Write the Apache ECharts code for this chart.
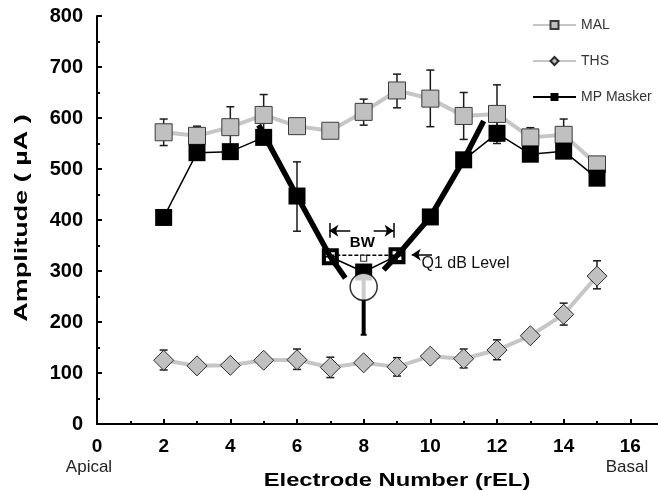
<!DOCTYPE html>
<html>
<head>
<meta charset="utf-8">
<script src="https://cdn.jsdelivr.net/npm/echarts@6/dist/echarts.min.js"></script>
<style>
html, body { margin: 0; padding: 0; background: #fff; }
#chart { width: 658px; height: 491px; }
</style>
</head>
<body>
<div id="chart"></div>
<script>
// electrode numbers (rEL)
var electrodes = [2, 3, 4, 5, 6, 7, 8, 9, 10, 11, 12, 13, 14, 15];
// MAL
var malValues = [572, 565, 582, 606, 584, 575, 612, 654, 638, 604, 608, 562, 567, 509];
var malLow    = [546, 545, 540, 565, 572, 575, 586, 620, 583, 558, 555, 555, 540, 509];
var malHigh   = [598, 584, 622, 646, 596, 575, 637, 686, 694, 650, 665, 581, 598, 509];
// THS
var thsValues = [125, 114, 115, 125, 126, 111, 120, 112, 133, 128, 145, 173, 215, 290];
var thsLow    = [106, 114, 115, 125, 107, 91, 120, 94, 133, 110, 126, 173, 194, 265];
var thsHigh   = [145, 114, 115, 125, 147, 131, 120, 130, 133, 147, 165, 173, 237, 320];
// MP Masker
var mpValues = [405, 532, 534, 562, 447, 328, 298, 330, 406, 518, 570, 529, 535, 482];
var mpLow    = [405, 532, 534, 562, 378, 328, 298, 330, 406, 518, 550, 529, 535, 482];
var mpHigh   = [405, 532, 534, 562, 514, 328, 298, 330, 406, 518, 592, 529, 535, 482];
var bwElectrodes = [7, 9];
// fitted slopes (thick lines)
var leftSlope = [[4.85, 586], [6, 447], [7, 328], [7.45, 286]];
var rightSlope = [[8.6, 302], [9, 330], [10, 406], [11, 518], [11.6, 594]];
// Q1 dB level, centre and minimum
var q1Level = 331;
var cfPoint = [8, 325];
var minPoint = [8, 269];
var minBar = [8, 175, 298];
var xTicks = [0, 2, 4, 6, 8, 10, 12, 14, 16];

var FONT = 'Liberation Sans, Arial, sans-serif';
var GRAY = '#c6c6c6';
var FILL = '#c0c0c0';

function pairs(xs, ys) {
  return xs.map(function (x, i) { return [x, ys[i]]; });
}

function errorBars(name, lows, highs, width, capW, z) {
  var data = [];
  electrodes.forEach(function (e, i) {
    if (highs[i] > lows[i]) data.push([e, lows[i], highs[i]]);
  });
  return {
    name: name,
    type: 'custom',
    silent: true,
    z: z,
    encode: { x: 0, y: [1, 2] },
    data: data,
    renderItem: function (params, api) {
      var x = api.value(0);
      var lo = api.coord([x, api.value(1)]);
      var hi = api.coord([x, api.value(2)]);
      var h = capW / 2;
      var st = { stroke: '#1a1a1a', lineWidth: width };
      return {
        type: 'group',
        children: [
          { type: 'line', shape: { x1: lo[0], y1: lo[1], x2: hi[0], y2: hi[1] }, style: st },
          { type: 'line', shape: { x1: lo[0] - h, y1: lo[1], x2: lo[0] + h, y2: lo[1] }, style: st },
          { type: 'line', shape: { x1: hi[0] - h, y1: hi[1], x2: hi[0] + h, y2: hi[1] }, style: st }
        ]
      };
    }
  };
}

// black square with a white 2x2 grid inside
var gridSquare = 'path://M0 0H10V10H0Z M2.4 2.4V4.6H4.6V2.4Z M5.4 2.4V4.6H7.6V2.4Z M2.4 5.4V7.6H4.6V5.4Z M5.4 5.4V7.6H7.6V5.4Z';

var mpData = electrodes.map(function (e, i) {
  if (bwElectrodes.indexOf(e) > -1) {
    return { value: [e, mpValues[i]], symbol: gridSquare };
  }
  return [e, mpValues[i]];
});

var chart = echarts.init(document.getElementById('chart'));

var option = {
  animation: false,
  textStyle: { fontFamily: FONT },
  grid: { left: 97, right: -39, top: 16, bottom: 67, outerBoundsMode: 'none', containLabel: false },
  legend: {
    data: ['MAL', 'THS', 'MP Masker'],
    orient: 'vertical',
    left: 527,
    top: 13,
    itemWidth: 43,
    itemHeight: 10,
    itemGap: 22,
    textStyle: { fontFamily: FONT, fontSize: 14, color: '#333' }
  },
  xAxis: {
    type: 'value',
    min: 0,
    max: 18,
    interval: 2,
    axisLine: { lineStyle: { color: '#000', width: 2 } },
    axisTick: { inside: true, length: 5, lineStyle: { color: '#000', width: 2 } },
    minorTick: { show: true, splitNumber: 2, length: 3, lineStyle: { color: '#000', width: 2 } },
    splitLine: { show: false },
    axisLabel: {
      margin: 13,
      fontSize: 19,
      fontWeight: 'bold',
      color: '#000',
      fontFamily: FONT,
      formatter: function (v) { return xTicks.indexOf(v) > -1 ? String(v) : ''; }
    }
  },
  yAxis: {
    type: 'value',
    min: 0,
    max: 800,
    interval: 100,
    axisLine: { show: true, lineStyle: { color: '#000', width: 2 } },
    axisTick: { inside: true, length: 5, lineStyle: { color: '#000', width: 2 } },
    minorTick: { show: true, splitNumber: 2, length: 3, lineStyle: { color: '#000', width: 2 } },
    splitLine: { show: false },
    axisLabel: { margin: 14, fontSize: 20, fontWeight: 'bold', color: '#000', fontFamily: FONT }
  },
  graphic: [
    {
      type: 'text', x: 397, y: 481, scaleX: 1.25,
      style: { text: 'Electrode Number (rEL)', font: 'bold 19px ' + FONT, fill: '#000', align: 'center', verticalAlign: 'middle' }
    },
    {
      type: 'text', x: 22, y: 218, rotation: Math.PI / 2, scaleX: 1.42,
      style: { text: 'Amplitude ( µA )', font: 'bold 19px ' + FONT, fill: '#000', align: 'center', verticalAlign: 'middle' }
    },
    { type: 'text', x: 89, y: 467, style: { text: 'Apical', font: '17px ' + FONT, fill: '#222', align: 'center', verticalAlign: 'middle' } },
    { type: 'text', x: 627, y: 467, style: { text: 'Basal', font: '17px ' + FONT, fill: '#222', align: 'center', verticalAlign: 'middle' } }
  ],
  series: [
    errorBars('malErr', malLow, malHigh, 1.5, 8, 1),
    errorBars('thsErr', thsLow, thsHigh, 1.5, 8, 1),
    errorBars('mpErr', mpLow, mpHigh, 1.5, 8, 1),
    {
      name: 'MAL',
      type: 'line',
      z: 2,
      data: pairs(electrodes, malValues),
      symbol: 'rect',
      symbolSize: 17,
      lineStyle: { color: GRAY, width: 4 },
      itemStyle: { color: FILL, borderColor: '#3a3a3a', borderWidth: 1 }
    },
    {
      name: 'THS',
      type: 'line',
      z: 2,
      data: pairs(electrodes, thsValues),
      symbol: 'diamond',
      symbolSize: 20,
      lineStyle: { color: GRAY, width: 4 },
      itemStyle: { color: FILL, borderColor: '#2a2a2a', borderWidth: 1 }
    },
    {
      name: 'leftSlope',
      type: 'line',
      z: 3,
      data: leftSlope,
      symbol: 'none',
      lineStyle: { color: '#000', width: 5.5 }
    },
    {
      name: 'rightSlope',
      type: 'line',
      z: 3,
      data: rightSlope,
      symbol: 'none',
      lineStyle: { color: '#000', width: 5.5 }
    },
    {
      name: 'q1Line',
      type: 'line',
      z: 3,
      data: [[bwElectrodes[0], q1Level], [bwElectrodes[1], q1Level]],
      symbol: 'none',
      lineStyle: { color: '#000', width: 1.5, type: [4, 2] },
      markLine: {
        silent: true,
        animation: false,
        label: { show: false },
        lineStyle: { color: '#000', width: 1.5, type: 'solid' },
        symbolSize: 9,
        data: [
          [{ coord: [7.6, 379], symbol: 'none' }, { coord: [6.97, 379], symbol: 'arrow' }],
          [{ coord: [8.3, 379], symbol: 'none' }, { coord: [8.9, 379], symbol: 'arrow' }],
          [{ coord: [6.97, 365], symbol: 'none' }, { coord: [6.97, 394], symbol: 'none' }],
          [{ coord: [8.9, 365], symbol: 'none' }, { coord: [8.9, 394], symbol: 'none' }],
          [{ coord: [10.05, 332], symbol: 'none' }, { coord: [9.44, 332], symbol: 'arrow' }]
        ]
      }
    },
    {
      name: 'minBar',
      type: 'custom',
      z: 4,
      silent: true,
      data: [minBar],
      encode: { x: 0, y: [1, 2] },
      renderItem: function (params, api) {
        var lo = api.coord([api.value(0), api.value(1)]);
        var hi = api.coord([api.value(0), api.value(2)]);
        return {
          type: 'group',
          children: [
            { type: 'line', shape: { x1: lo[0], y1: lo[1], x2: hi[0], y2: hi[1] }, style: { stroke: '#000', lineWidth: 4 } },
            { type: 'line', shape: { x1: lo[0] - 3, y1: lo[1], x2: lo[0] + 3, y2: lo[1] }, style: { stroke: '#000', lineWidth: 2 } }
          ]
        };
      }
    },
    {
      name: 'MP Masker',
      type: 'line',
      z: 5,
      data: mpData,
      symbol: 'rect',
      symbolSize: 17,
      lineStyle: { color: '#000', width: 1.5 },
      itemStyle: { color: '#000' }
    },
    {
      name: 'cf',
      type: 'scatter',
      z: 6,
      data: [cfPoint],
      symbol: 'rect',
      symbolSize: 6,
      itemStyle: { color: '#fff', borderColor: '#000', borderWidth: 1.2 }
    },
    {
      name: 'min',
      type: 'scatter',
      z: 6,
      data: [minPoint],
      symbol: 'circle',
      symbolSize: 27,
      itemStyle: { color: '#fff', borderColor: '#000', borderWidth: 1.5 }
    },
    {
      name: 'labels',
      type: 'scatter',
      z: 7,
      symbolSize: 1,
      itemStyle: { opacity: 0 },
      data: [
        { value: [7.96, 355], label: { show: true, position: 'inside', formatter: 'BW', fontWeight: 'bold', fontSize: 15, color: '#000', opacity: 1 } },
        { value: [9.72, 315], label: { show: true, position: 'right', distance: 0, formatter: 'Q1 dB Level', fontSize: 16, color: '#111', opacity: 1 } }
      ]
    }
  ]
};

chart.setOption(option);
window.onresize = chart.resize;
</script>
</body>
</html>
